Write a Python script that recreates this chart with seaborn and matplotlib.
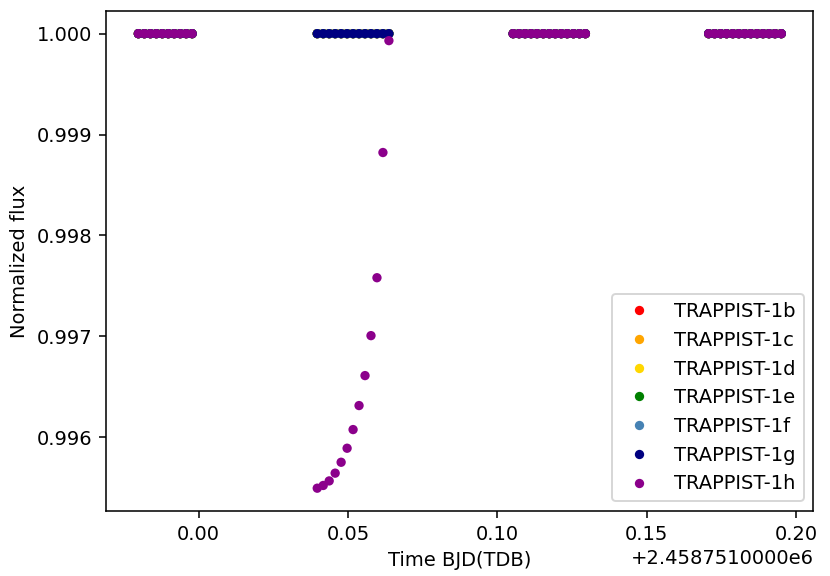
# Curva de luz TRAPPIST-1 (tránsito de h)
import pandas as pd
import numpy as np
import matplotlib
matplotlib.use("Agg")
import matplotlib.pyplot as plt
import matplotlib.ticker as mticker
import seaborn as sns

t0 = 2458751.0

planetas = ["TRAPPIST-1b", "TRAPPIST-1c", "TRAPPIST-1d", "TRAPPIST-1e",
            "TRAPPIST-1f", "TRAPPIST-1g", "TRAPPIST-1h"]
colores = ["red", "orange", "gold", "green", "steelblue", "navy", "darkmagenta"]

# tiempos (dias, relativos a t0) de cada ventana de observacion
seg_a = [-0.0202, -0.0182, -0.0162, -0.0142, -0.0122, -0.0102, -0.0082,
         -0.0062, -0.0042, -0.0022]
seg_b = [0.0397, 0.0417, 0.0437, 0.0457, 0.0477, 0.0497, 0.0517, 0.0537,
         0.0557, 0.0577, 0.0597, 0.0617, 0.0637]
seg_c = [0.1053, 0.1073, 0.1093, 0.1113, 0.1133, 0.1154, 0.1174, 0.1194,
         0.1214, 0.1234, 0.1255, 0.1275, 0.1295]
seg_d = [0.1708, 0.1728, 0.1748, 0.1768, 0.1789, 0.1809, 0.1829, 0.1849,
         0.1870, 0.1890, 0.1910, 0.1930, 0.1951]

# flujo de h durante la ventana b (transito)
flux_h_b = [0.995495, 0.995522, 0.995567, 0.995644, 0.995752, 0.995891,
            0.996076, 0.996314, 0.996611, 0.997007, 0.997581, 0.998822,
            0.999931]

tiempos = seg_a + seg_b + seg_c + seg_d

filas = []
for p in planetas:
    for t in tiempos:
        f = 1.0
        if p == "TRAPPIST-1h" and t in seg_b:
            f = flux_h_b[seg_b.index(t)]
        filas.append({"time": t0 + t, "flux": f, "planeta": p})
df = pd.DataFrame(filas)


# offset al estilo viejo de matplotlib: +2.4587510000e6
class OldOffsetFormatter(mticker.ScalarFormatter):
    def get_offset(self):
        if not self.offset:
            return super().get_offset()
        s = "%1.10e" % self.offset
        mant, exp = s.split("e")
        return ("+" if self.offset > 0 else "") + mant.lstrip("+") + "e" + str(int(exp))


fig, ax = plt.subplots(figsize=(830 / 140, 576 / 140), dpi=140)
fig.subplots_adjust(left=0.128, right=0.98, top=0.981, bottom=0.113)

sns.scatterplot(data=df, x="time", y="flux", hue="planeta",
                hue_order=planetas, palette=dict(zip(planetas, colores)),
                s=23, linewidth=0, ax=ax)

ax.xaxis.set_major_formatter(OldOffsetFormatter())
ax.set_xlabel("Time BJD(TDB)")
ax.set_ylabel("Normalized flux")
ax.legend(loc="lower right")

fig.savefig("out.png", dpi=140)
